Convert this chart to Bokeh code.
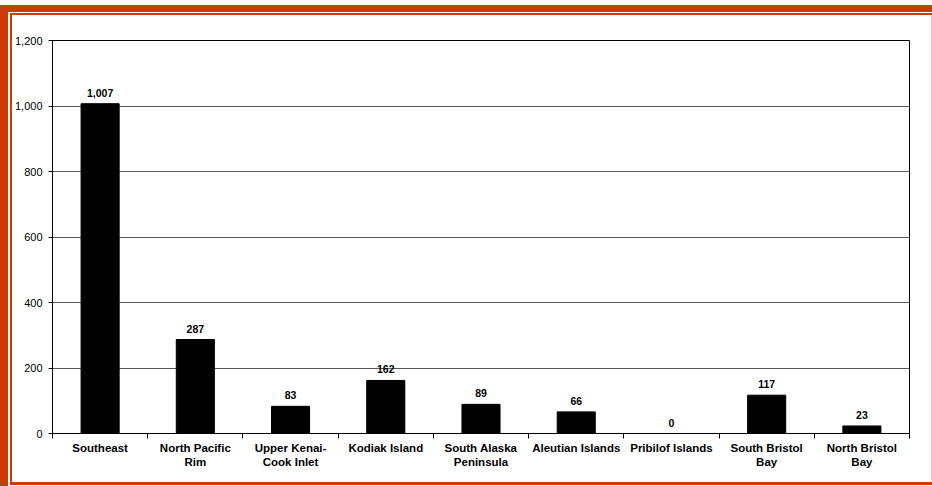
from bokeh.plotting import figure
from bokeh.models import (Range1d, LinearAxis, FixedTicker,
                          NumeralTickFormatter, ColumnDataSource)
from bokeh.core.properties import value
from bokeh.embed import file_html
from bokeh.resources import INLINE

# ---- data ----
regions = ["Southeast", "North Pacific Rim", "Upper Kenai-Cook Inlet", "Kodiak Island",
           "South Alaska Peninsula", "Aleutian Islands", "Pribilof Islands",
           "South Bristol Bay", "North Bristol Bay"]
region_labels = ["Southeast", "North Pacific\nRim", "Upper Kenai-\nCook Inlet", "Kodiak Island",
                 "South Alaska\nPeninsula", "Aleutian Islands", "Pribilof Islands",
                 "South Bristol\nBay", "North Bristol\nBay"]
counts = [1007, 287, 83, 162, 89, 66, 0, 117, 23]
y_ticks = [0, 200, 400, 600, 800, 1000, 1200]

FONT = "Liberation Sans"
ORANGE = "#cc3a06"
FAINT = "#f0c4b4"

n = len(regions)
centers = [i + 0.5 for i in range(n)]
edges = list(range(n + 1))
src = ColumnDataSource(dict(x=centers, region=regions, count=counts,
                            label=[f"{c:,}" for c in counts]))

p = figure(x_range=Range1d(0, n), y_range=Range1d(0, 1200), width=932, height=486,
           output_backend="svg", toolbar_location=None, x_axis_location=None,
           min_border_left=52, min_border_right=23, min_border_top=40, min_border_bottom=53)

p.border_fill_alpha = 0
p.background_fill_color = "white"
p.outline_line_color = "black"
p.outline_line_width = 1
p.styles = {
    "background-color": "white",
    "box-shadow": ", ".join([
        "inset 0 5px 0 0 #ffffff",
        f"inset 8px 0 0 0 {ORANGE}",
        f"inset 0 12px 0 0 {ORANGE}",
        "inset 0 -1px 0 0 #ffffff",
        "inset 0 13px 0 0 #ffffff",
        "inset 10px 0 0 0 #ffffff",
        f"inset 0 15px 0 0 {ORANGE}",
        f"inset 12px 0 0 0 {ORANGE}",
        f"inset 0 -4px 0 0 {ORANGE}",
        f"inset -1px 0 0 0 {FAINT}",
    ]),
}

# bars and value labels
p.vbar(x="x", top="count", width=0.4, source=src, color="black")
p.text(x="x", y="count", text="label", source=src,
       text_font=value(FONT), text_font_style="bold", text_font_size="10.5px",
       text_align="center", text_baseline="bottom", y_offset=-7, text_color="black")

# y axis
p.yaxis.ticker = FixedTicker(ticks=y_ticks)
p.yaxis.formatter = NumeralTickFormatter(format="0,0")
p.yaxis.major_tick_out = 4
p.yaxis.major_tick_in = 0
p.yaxis.minor_tick_line_color = None
p.yaxis.major_label_standoff = 6
p.yaxis.major_label_text_font = FONT
p.yaxis.major_label_text_font_size = "11px"
p.yaxis.major_label_text_color = "black"
p.yaxis.axis_line_color = "black"
p.yaxis.major_tick_line_color = "black"

p.ygrid.grid_line_color = "#5a5a5a"
p.ygrid.grid_line_width = 1
p.xgrid.visible = False

# x axis: labels at category centres, ticks at category boundaries
label_axis = LinearAxis(ticker=FixedTicker(ticks=centers, minor_ticks=edges),
                        major_label_overrides=dict(zip(centers, region_labels)),
                        major_tick_line_color=None, major_tick_out=5, major_tick_in=0,
                        minor_tick_line_color="black", minor_tick_out=5, minor_tick_in=0,
                        axis_line_color="black", major_label_standoff=3,
                        major_label_text_font=FONT, major_label_text_font_style="bold",
                        major_label_text_font_size="11.5px", major_label_text_color="black")
p.add_layout(label_axis, "below")

open("out.html", "w").write(file_html(p, INLINE))
